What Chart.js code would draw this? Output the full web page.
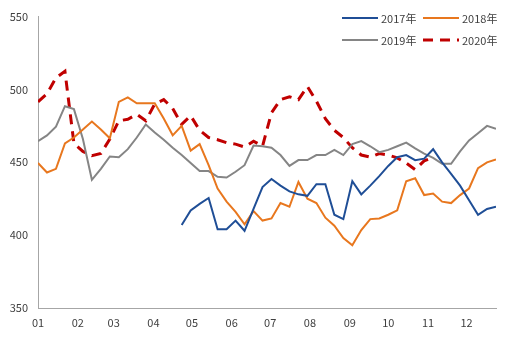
<!DOCTYPE html>
<html>
<head>
<meta charset="utf-8">
<script src="https://cdn.jsdelivr.net/npm/chart.js@4/dist/chart.umd.min.js"></script>
<style>
  body { margin: 0; background: #fff; }
  #wrap { width: 511px; height: 341px; }
</style>
</head>
<body>
<div id="wrap"><canvas id="grafico" width="511" height="341"></canvas></div>
<script>
// tick labels (months) and the day each month starts on
const meses = ['01', '02', '03', '04', '05', '06', '07', '08', '09', '10', '11', '12'];
const inicioMes = [0, 31, 59, 90, 120, 151, 181, 212, 243, 273, 304, 334];
const diasPorSemana = 7;

// weekly values, 52 weeks per year
const serie2017 = [null, null, null, null, null, null, null, null, null, null, null, null, null, null, null, null,
  407, 417, 421.5, 425.5, 404, 404, 410, 403, 418, 433, 438.5, 434, 430, 428, 427, 435, 435, 414, 411, 437,
  428, 434, 440.5, 447.5, 453.5, 455, 451.5, 452.5, 459, 450, 442, 434, 424, 414, 418, 419.5];
const serie2018 = [449.5, 443, 445.5, 463, 467, 472.5, 478, 472.5, 466.5, 491.5, 494.5, 490.5, 490.5, 490.5, 480, 468.5,
  475, 458, 462.5, 448, 432, 423, 416, 407.5, 416.5, 410, 411.5, 422, 419.5, 436.5, 425, 422, 412, 406.5, 398, 393,
  403.5, 411, 411.5, 414, 417, 437, 439, 427.5, 428.5, 423, 422, 427.5, 432, 446, 450, 452];
const serie2019 = [464.5, 468.5, 474.5, 488.5, 486.5, 466, 438, 445.5, 454, 453.5, 459, 467, 476, 470.5, 465.5, 460,
  455, 449.5, 444, 444, 440, 439.5, 443.5, 448, 461.5, 461, 460, 455, 447.5, 451.5, 451.5, 455, 455, 458.5, 455, 462.5,
  464.5, 461, 457, 458.5, 461, 463.5, 459.5, 456, 453, 449, 449, 457.5, 465, 470, 475, 473];
const serie2020 = [491.5, 497, 508, 512.5, 463, 457.5, 454.5, 456, 466, 478.5, 479.5, 483, 478.5, 490, 493, 487,
  476, 482, 472, 467, 465.5, 463.5, 462.5, 460.5, 464.5, 461, 484, 493, 495, 493, 502, 492, 480, 472, 467, 460,
  455, 453.5, 456, 455, 453, 449.5, 445, 451, 453.5, null, null, null, null, null, null, null];

const nomes = ['2017年', '2018年', '2019年', '2020年'];
const fonte = { family: '"Microsoft YaHei", "Noto Sans CJK SC", sans-serif', size: 11 };
const corTexto = '#404040';

function pontos(serie) {
  return serie.map((v, i) => ({ x: i * diasPorSemana, y: v }));
}

// legend in two rows, drawn like the original
const legendaDuasLinhas = {
  id: 'legendaDuasLinhas',
  afterDraw(chart) {
    const ctx = chart.ctx;
    const colunas = [342, 423];
    const linhas = [18, 40];
    ctx.save();
    ctx.font = fonte.size + 'px ' + fonte.family;
    ctx.textBaseline = 'middle';
    ctx.fillStyle = corTexto;
    chart.data.datasets.forEach((ds, i) => {
      const x = colunas[i % 2];
      const y = linhas[Math.floor(i / 2)];
      ctx.strokeStyle = ds.borderColor;
      ctx.lineWidth = ds.borderWidth;
      ctx.setLineDash(ds.borderDash || []);
      ctx.beginPath();
      ctx.moveTo(x, y);
      ctx.lineTo(x + 36, y);
      ctx.stroke();
      ctx.setLineDash([]);
      ctx.fillText(ds.label, x + 39, y + 1);
    });
    ctx.restore();
  }
};

const ctx = document.getElementById('grafico').getContext('2d');
new Chart(ctx, {
  type: 'line',
  data: {
    datasets: [
      { label: nomes[0], data: pontos(serie2017), borderColor: '#1F4E96', borderWidth: 2 },
      { label: nomes[1], data: pontos(serie2018), borderColor: '#E8771E', borderWidth: 2 },
      { label: nomes[2], data: pontos(serie2019), borderColor: '#858585', borderWidth: 2 },
      { label: nomes[3], data: pontos(serie2020), borderColor: '#C00000', borderWidth: 3, borderDash: [10, 7] }
    ]
  },
  options: {
    responsive: false,
    animation: false,
    devicePixelRatio: 1,
    layout: { padding: { top: 15, right: 15, left: 0, bottom: 0 } },
    elements: { point: { radius: 0 }, line: { tension: 0, borderCapStyle: 'butt' } },
    plugins: { legend: { display: false }, tooltip: { enabled: false } },
    scales: {
      x: {
        type: 'linear',
        min: 0,
        max: (serie2018.length - 1) * diasPorSemana,
        grid: { display: false, drawTicks: false },
        border: { display: true, color: '#a6a6a6', width: 1 },
        afterBuildTicks: (scale) => { scale.ticks = inicioMes.map(v => ({ value: v })); },
        afterFit: (scale) => { scale.height = 33; },
        ticks: {
          autoSkip: false,
          maxRotation: 0,
          padding: 8,
          color: corTexto,
          font: fonte,
          callback: (v) => meses[inicioMes.indexOf(v)]
        }
      },
      y: {
        min: 350,
        max: 550,
        grid: { display: false, drawTicks: false },
        border: { display: true, color: '#a6a6a6', width: 1 },
        afterFit: (scale) => { scale.width = 38; },
        ticks: { stepSize: 50, padding: 10, color: corTexto, font: fonte }
      }
    }
  },
  plugins: [legendaDuasLinhas]
});
</script>
</body>
</html>
